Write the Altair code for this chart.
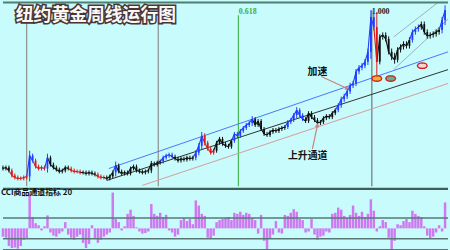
import altair as alt
import pandas as pd

# ---------------- data (weekly, index 0..149) ----------------
close = [296, 299, 290, 275, 269, 266, 266, 269, 272, 335,
         320, 302, 296, 299, 296, 329, 308, 299, 293, 287,
         290, 299, 296, 290, 287, 287, 284, 284, 281, 284,
         281, 278, 272, 269, 269, 266, 272, 284, 305, 287,
         281, 284, 281, 296, 302, 290, 287, 284, 287, 290,
         311, 308, 314, 317, 329, 335, 338, 332, 326, 320,
         326, 323, 329, 326, 329, 344, 365, 395, 374, 356,
         344, 350, 374, 386, 371, 365, 362, 380, 401, 395,
         410, 419, 428, 434, 446, 428, 440, 416, 401, 398,
         407, 413, 410, 416, 419, 422, 437, 443, 458, 473,
         458, 446, 440, 464, 452, 443, 434, 437, 449, 455,
         452, 464, 473, 488, 506, 515, 530, 548, 554, 590,
         602, 608, 620, 650, 755, 725, 620, 695, 701, 689,
         650, 635, 626, 656, 665, 674, 668, 686, 710, 719,
         725, 734, 710, 698, 701, 704, 710, 716, 746, 776]

wick = [6, 6, 6, 6, 6, 6, 6, 6, 6, 15,
        6, 6, 6, 6, 6, 12, 6, 6, 6, 6,
        6, 6, 6, 6, 6, 6, 6, 6, 6, 6,
        6, 6, 6, 6, 6, 6, 6, 6, 12, 6,
        6, 6, 6, 6, 6, 6, 6, 6, 6, 6,
        8, 6, 6, 6, 6, 6, 6, 6, 6, 6,
        6, 6, 6, 6, 6, 8, 8, 12, 8, 6,
        6, 6, 6, 6, 6, 6, 6, 6, 6, 6,
        6, 6, 6, 6, 9, 6, 6, 6, 6, 6,
        6, 6, 6, 6, 6, 6, 6, 6, 6, 9,
        6, 6, 6, 6, 6, 6, 6, 6, 6, 6,
        6, 6, 6, 6, 8, 8, 8, 8, 8, 8,
        8, 8, 8, 10, 21, 10, 45, 8, 8, 8,
        8, 10, 12, 8, 8, 8, 8, 8, 8, 8,
        8, 8, 8, 8, 8, 8, 8, 8, 10, 15]

seg_start = [0, 3, 9, 11, 15, 16, 23, 27, 32, 35, 38, 39, 54, 58, 65, 68,
             72, 78, 85, 96, 102, 113, 126, 127, 138, 141, 148]
seg_color = ["k", "r", "b", "r", "b", "k", "r", "k", "r", "k", "b", "k", "b", "k", "b", "r",
             "k", "b", "k", "b", "k", "b", "r", "k", "b", "k", "b"]

cci = [-80, -90, -170, -190, -185, -195, -170, -110, -100, 345,
       110, 50, 30, -20, 20, 125, -40, -70, -80, -50,
       -30, 60, -60, -90, -110, -80, -60, -140, -190, -150,
       30, -100, -140, -110, -80, -60, -40, 345, 90, 60,
       -20, 20, 140, 180, 120, 10, -30, -50, -45, -30,
       235, 140, 120, 150, 110, 130, -20, -40, -80, -60,
       80, 100, 70, 90, 40, 270, 220, 140, 120, -90,
       -100, -70, 60, 80, 90, 100, 110, 80, 150, 140,
       160, 130, 150, 140, 100, 80, -50, 130, -120, -200,
       -100, -60, 70, -40, -50, 130, 120, 150, 185, 160,
       90, 80, -40, -30, 90, -60, -110, -80, -70, -30,
       -40, 140, 150, 200, 180, 120, 100, 130, 220, 150,
       120, 160, 110, 140, 280, 170, -30, 20, 80, 60,
       -90, -200, -120, 40, 30, 70, 90, 60, 170, 140,
       120, 110, 20, -70, -100, -80, -40, 30, -30, 250]

vline_i = [8, 52.33, 79.33, 124.33]
vline_top = [770, 770, 761, 776]
vline_color = ["#858585", "#858585", "#3cb043", "#6a6a6a"]

chan_i1 = [35.67, 35, 47, 131.67, 131.67]
chan_p1 = [296, 260, 245, 596, 695]
chan_i2 = [150, 150, 150, 150, 146.67]
chan_p2 = [650, 596, 554, 749, 800]
chan_color = ["#4a74ff", "#303030", "#d49a9a", "#9ab0bc", "#9ab0bc"]

ell_i = [126, 130.67, 141.33]
ell_p = [569, 569, 608]
ell_fill = ["#f0b030", "#5fb08c", "#f8d4d4"]

arrow_i1 = [107.3, 104.3]
arrow_p1 = [575, 356]
arrow_i2 = [116, 106]
arrow_p2 = [539, 428]

cci_levels = [100, -100, -205]

# ---------------- tables ----------------
cmap = {"k": "#111111", "r": "#e01818", "b": "#1f3cff"}
cols = []
for i in range(len(close)):
    c = seg_color[0]
    for s, sc in zip(seg_start, seg_color):
        if i >= s:
            c = sc
    cols.append(cmap[c])

opens = [close[0] + 3] + close[:-1]
rows = []
for i in range(len(close)):
    o, cl = float(opens[i]), float(close[i])
    rows.append({"i": i, "ip": i - 1, "open": o, "close": cl,
                 "lo": min(o, cl) - wick[i], "hi": max(o, cl) + wick[i],
                 "c": cols[i], "cci": cci[i], "zero": 0})
df = pd.DataFrame(rows)

vl = pd.DataFrame({"i": vline_i, "top": vline_top, "bot": [242] * 4, "c": vline_color})
ch = pd.DataFrame({"i1": chan_i1, "p1": chan_p1, "i2": chan_i2, "p2": chan_p2, "c": chan_color})
el = pd.DataFrame({"i": ell_i, "p": ell_p, "f": ell_fill})
ar = pd.DataFrame({"i1": arrow_i1, "p1": arrow_p1, "i2": arrow_i2, "p2": arrow_p2})

xs = alt.Scale(domain=[0, 150], nice=False, zero=False)
ys = alt.Scale(domain=[242, 800], nice=False, zero=False)
cs = alt.Scale(domain=[-224, 386], nice=False, zero=False)


def X(f):
    return alt.X(f"{f}:Q", scale=xs, axis=None)


def Y(f):
    return alt.Y(f"{f}:Q", scale=ys, axis=None)


def C(f):
    return alt.Y(f"{f}:Q", scale=cs, axis=None)


def noc(f):
    return alt.Color(f"{f}:N", scale=None, legend=None)


base = alt.Chart(df)

vlines = alt.Chart(vl).mark_rule(strokeWidth=1.1).encode(
    x=X("i"), y=Y("top"), y2=alt.Y2("bot"), color=noc("c"))
chans = alt.Chart(ch).mark_rule(strokeWidth=1, clip=True).encode(
    x=X("i1"), x2=alt.X2("i2"), y=Y("p1"), y2=alt.Y2("p2"), color=noc("c"))
wicks = base.mark_rule(strokeWidth=1).encode(
    x=X("i"), y=Y("lo"), y2=alt.Y2("hi"), color=noc("c"))
links = base.transform_filter("datum.i > 0").mark_rule(strokeWidth=1.1).encode(
    x=X("ip"), x2=alt.X2("i"), y=Y("open"), y2=alt.Y2("close"), color=noc("c"))
bodies = base.mark_rule(strokeWidth=1.8).encode(
    x=X("i"), y=Y("open"), y2=alt.Y2("close"), color=noc("c"))

ellipse = "M-1,0 L-0.8,-0.36 L-0.4,-0.52 L0,-0.55 L0.4,-0.52 L0.8,-0.36 L1,0 L0.8,0.36 L0.4,0.52 L0,0.55 L-0.4,0.52 L-0.8,0.36 Z"
ells = alt.Chart(el).mark_point(shape=ellipse, size=100, filled=True, stroke="#d02020",
                                strokeWidth=1.3, opacity=1).encode(
    x=X("i"), y=Y("p"), fill=alt.Fill("f:N", scale=None, legend=None))

arr_lines = alt.Chart(ar).mark_rule(strokeWidth=1.2, color="#c88080").encode(
    x=X("i1"), x2=alt.X2("i2"), y=Y("p1"), y2=alt.Y2("p2"))
head1 = alt.Chart(ar.iloc[[0]]).mark_point(shape="triangle-up", size=22, filled=True,
                                           color="#c88080", opacity=1, angle=115).encode(
    x=X("i2"), y=Y("p2"))
head2 = alt.Chart(ar.iloc[[1]]).mark_point(shape="triangle-up", size=22, filled=True,
                                           color="#c88080", opacity=1, angle=12).encode(
    x=X("i2"), y=Y("p2"))


def txt(items, **kw):
    d = pd.DataFrame(items, columns=["i", "p", "t"])
    return alt.Chart(d).mark_text(**kw).encode(x=X("i"), y=Y("p"), text="t:N")


title_bg = txt([(4.33, 759.5, "纽约黄金周线运行图")], align="left", baseline="middle",
               font="Noto Sans CJK SC", fontSize=18, fontWeight="bold",
               color="#4a3535", stroke="#4a3535", strokeWidth=3.2)
title_fg = txt([(4.33, 759.5, "纽约黄金周线运行图")], align="left", baseline="middle",
               font="Noto Sans CJK SC", fontSize=18, fontWeight="bold", color="#fbf8f4")
lab618 = txt([(79.5, 770, "0.618")], align="left", baseline="middle",
             font="Liberation Serif", fontSize=8, fontWeight="bold", color="#44aa44")
lab1000 = txt([(124.3, 770, "1.000")], align="left", baseline="middle",
              font="Liberation Serif", fontSize=8, fontWeight="bold", color="#222222")
lab_cn = txt([(106, 590, "加速"), (102.7, 335, "上升通道")], align="center", baseline="middle",
             font="Noto Sans CJK SC", fontSize=10, fontWeight="bold", color="#111111")

topline = alt.Chart(pd.DataFrame({"p": [799.5]})).mark_rule(
    strokeWidth=2, color="#4f7d70").encode(y=Y("p"))

main = alt.layer(vlines, chans, wicks, links, bodies, ells, arr_lines, head1, head2,
                 title_bg, title_fg, lab618, lab1000, lab_cn, topline).properties(width=450, height=186)

# ---------------- CCI panel ----------------
lv = pd.DataFrame({"v": cci_levels})
levels = alt.Chart(lv).mark_rule(strokeWidth=1.5, color="#587878").encode(y=C("v"))
sep = alt.Chart(pd.DataFrame({"v": [380]})).mark_rule(
    strokeWidth=2.2, color="#3e5e5a").encode(y=C("v"))
bars = base.mark_rule(strokeWidth=2.5, color="#cf79f0").encode(
    x=X("i"), y=C("zero"), y2=alt.Y2("cci"))
cci_txt = alt.Chart(pd.DataFrame({"i": [-0.7], "v": [340], "t": ["CCI商品通道指标 20"]})).mark_text(
    align="left", baseline="middle", font="Noto Sans CJK SC", fontSize=8, fontWeight="bold",
    color="#111111").encode(x=X("i"), y=C("v"), text="t:N")

cci_panel = alt.layer(bars, levels, sep, cci_txt).properties(width=450, height=64)

chart = alt.vconcat(main, cci_panel, spacing=0).properties(padding=0).configure(
    background="#c8fcfc").configure_view(stroke=None)

chart.save("out.html", embed_options={"renderer": "svg", "actions": False})
